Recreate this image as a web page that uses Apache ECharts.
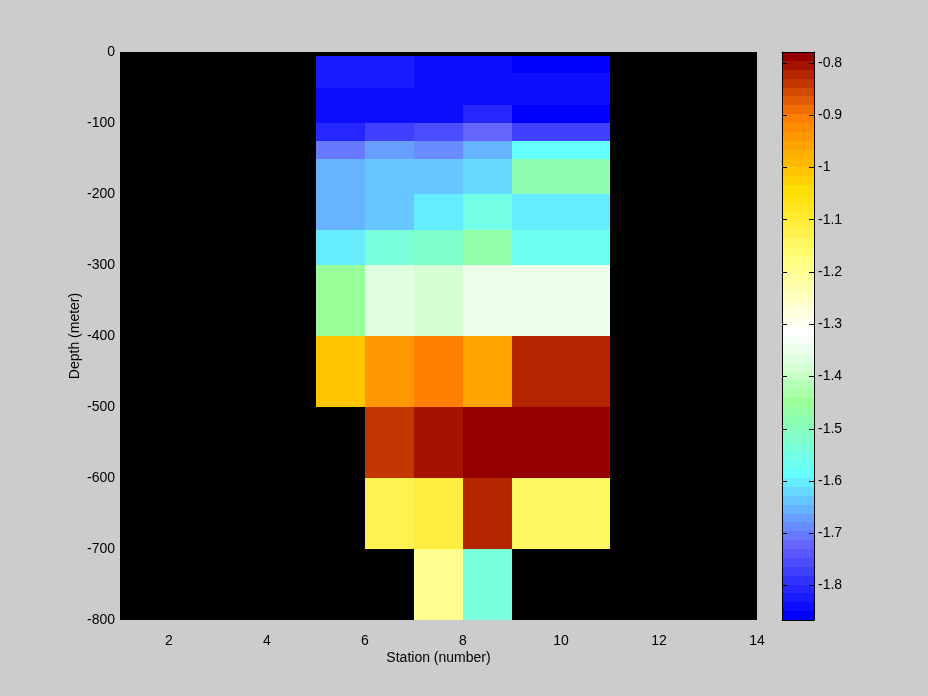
<!DOCTYPE html>
<html>
<head>
<meta charset="utf-8">
<script src="https://cdn.jsdelivr.net/npm/echarts@6/dist/echarts.min.js"></script>
<style>html,body{margin:0;padding:0;background:#cccccc;}#c{width:928px;height:696px;}</style>
</head>
<body>
<div id="c"></div>
<script>
// ---- data ----
const stationEdges = [5, 6, 7, 8, 9, 11];
const depthEdges = [-5, -30, -50, -75, -100, -125, -150, -200, -250, -300, -400, -500, -600, -700, -800];
// values per station column, top row first (null = no data)
const st5 = [-1.824, -1.824, -1.841, -1.841, -1.807, -1.705, -1.654, -1.654, -1.603, -1.450, -1.008, null, null, null];
const st6 = [-1.824, -1.824, -1.841, -1.841, -1.773, -1.671, -1.637, -1.637, -1.535, -1.365, -0.940, -0.838, -1.127, null];
const st7 = [-1.841, -1.841, -1.841, -1.841, -1.756, -1.688, -1.637, -1.603, -1.518, -1.382, -0.906, -0.804, -1.110, -1.195];
const st8 = [-1.841, -1.841, -1.841, -1.807, -1.722, -1.654, -1.620, -1.552, -1.467, -1.348, -0.957, -0.787, -0.821, -1.535];
const st9 = [-1.866, -1.841, -1.841, -1.858, -1.773, -1.586, -1.484, -1.603, -1.569, -1.348, -0.821, -0.779, -1.144, null];
const xTicks = [2, 4, 6, 8, 10, 12, 14];
const cbTicks = [-1.8, -1.7, -1.6, -1.5, -1.4, -1.3, -1.2, -1.1, -1.0, -0.9, -0.8];

// ---- colormap (64 levels, bottom to top) ----
const cmap = [
 '#0000ff','#0d0dff','#1a1aff','#2626ff','#3333ff','#4040ff','#4d4dff','#5959ff',
 '#6666ff','#6679ff','#668cff','#669fff','#66b3ff','#66c6ff','#66d9ff','#66ecff',
 '#66ffff','#6cfff2','#73ffe6','#79ffd9','#80ffcc','#86ffc0','#8cffb3','#93ffa6',
 '#99ff99','#a8ffa8','#b6ffb6','#c5ffc5','#d4ffd4','#e0ffe0','#ebffeb','#f5fff5',
 '#ffffff','#fffff0','#ffffe0','#ffffd0','#ffffc0','#ffffb0','#ffffa0','#ffff90',
 '#ffff80','#fffb70','#fff760','#fff250','#ffee40','#ffea30','#ffe620','#ffe110',
 '#ffdd00','#ffd100','#ffc600','#ffba00','#ffaf00','#ffa300','#ff9700','#ff8c00',
 '#ff8000','#f06e00','#e15b00','#d24900','#c33700','#b42500','#a51200','#960000'
];

const cols = [st5, st6, st7, st8, st9];
const cells = [];
let cmin = Infinity, cmax = -Infinity;
cols.forEach((col, ci) => {
  col.forEach((v, ri) => {
    if (v === null) return;
    cmin = Math.min(cmin, v); cmax = Math.max(cmax, v);
    cells.push([stationEdges[ci], stationEdges[ci + 1], depthEdges[ri], depthEdges[ri + 1], v]);
  });
});
function colorOf(v) {
  let i = Math.floor((v - cmin) / (cmax - cmin) * cmap.length);
  i = Math.max(0, Math.min(cmap.length - 1, i));
  return cmap[i];
}
const bands = cmap.map((c, i) => {
  const s = (cmax - cmin) / cmap.length;
  return [0, 1, cmin + i * s, cmin + (i + 1) * s, i];
});

function rectItem(api, fill) {
  const p0 = api.coord([api.value(0), api.value(2)]);
  const p1 = api.coord([api.value(1), api.value(3)]);
  const x0 = Math.round(Math.min(p0[0], p1[0])), x1 = Math.round(Math.max(p0[0], p1[0]));
  const y0 = Math.round(Math.min(p0[1], p1[1])), y1 = Math.round(Math.max(p0[1], p1[1]));
  return { type: 'rect', shape: { x: x0, y: y0, width: x1 - x0, height: y1 - y0 }, style: { fill: fill } };
}

const FONT = 'Liberation Sans, Arial, sans-serif';
const txt = { color: '#000', fontSize: 14, fontFamily: FONT };

const chart = echarts.init(document.getElementById('c'), null, { renderer: 'canvas' });
chart.setOption({
  backgroundColor: '#cccccc',
  animation: false,
  grid: [
    { left: 120, top: 52, width: 637, height: 568, show: true, backgroundColor: '#000000', borderWidth: 0 },
    { left: 782, top: 52, width: 32, height: 568 }
  ],
  xAxis: [
    { gridIndex: 0, type: 'value', min: 1, max: 14,
      axisLine: { show: false, onZero: false }, axisTick: { show: false }, splitLine: { show: false },
      axisLabel: Object.assign({ customValues: xTicks, margin: 14 }, txt),
      name: 'Station (number)', nameLocation: 'middle', nameGap: 31, nameMoveOverlap: false, nameTextStyle: txt },
    { gridIndex: 1, type: 'value', min: 0, max: 1, position: 'bottom', z: 10,
      axisLine: { show: true, onZero: false, lineStyle: { color: '#000', width: 1 } },
      axisTick: { show: false }, axisLabel: { show: false }, splitLine: { show: false } },
    { gridIndex: 1, type: 'value', min: 0, max: 1, position: 'top', z: 10,
      axisLine: { show: true, onZero: false, lineStyle: { color: '#000', width: 1 } },
      axisTick: { show: false }, axisLabel: { show: false }, splitLine: { show: false } }
  ],
  yAxis: [
    { gridIndex: 0, type: 'value', min: -800, max: 0, interval: 100,
      axisLine: { show: false, onZero: false }, axisTick: { show: false }, splitLine: { show: false },
      axisLabel: Object.assign({ margin: 5 }, txt),
      name: 'Depth (meter)', nameLocation: 'middle', nameGap: 38, nameMoveOverlap: false, nameRotate: 90, nameTextStyle: txt },
    { gridIndex: 1, type: 'value', min: cmin, max: cmax, position: 'right', z: 10,
      axisLine: { show: true, onZero: false, lineStyle: { color: '#000', width: 1 } },
      axisTick: { show: true, inside: true, length: 5, customValues: cbTicks, lineStyle: { color: '#000', width: 1 } },
      axisLabel: Object.assign({ customValues: cbTicks, margin: 4, formatter: v => String(+(+v).toFixed(1)) }, txt),
      splitLine: { show: false } },
    { gridIndex: 1, type: 'value', min: cmin, max: cmax, position: 'left', z: 10,
      axisLine: { show: true, onZero: false, lineStyle: { color: '#000', width: 1 } },
      axisTick: { show: true, inside: true, length: 5, customValues: cbTicks, lineStyle: { color: '#000', width: 1 } },
      axisLabel: { show: false }, splitLine: { show: false } }
  ],
  series: [
    { type: 'custom', xAxisIndex: 0, yAxisIndex: 0, data: cells, encode: { x: [0, 1], y: [2, 3] },
      renderItem: (params, api) => rectItem(api, colorOf(api.value(4))) },
    { type: 'custom', xAxisIndex: 1, yAxisIndex: 1, data: bands, encode: { x: [0, 1], y: [2, 3] },
      renderItem: (params, api) => rectItem(api, cmap[api.value(4)]) }
  ]
});
</script>
</body>
</html>
